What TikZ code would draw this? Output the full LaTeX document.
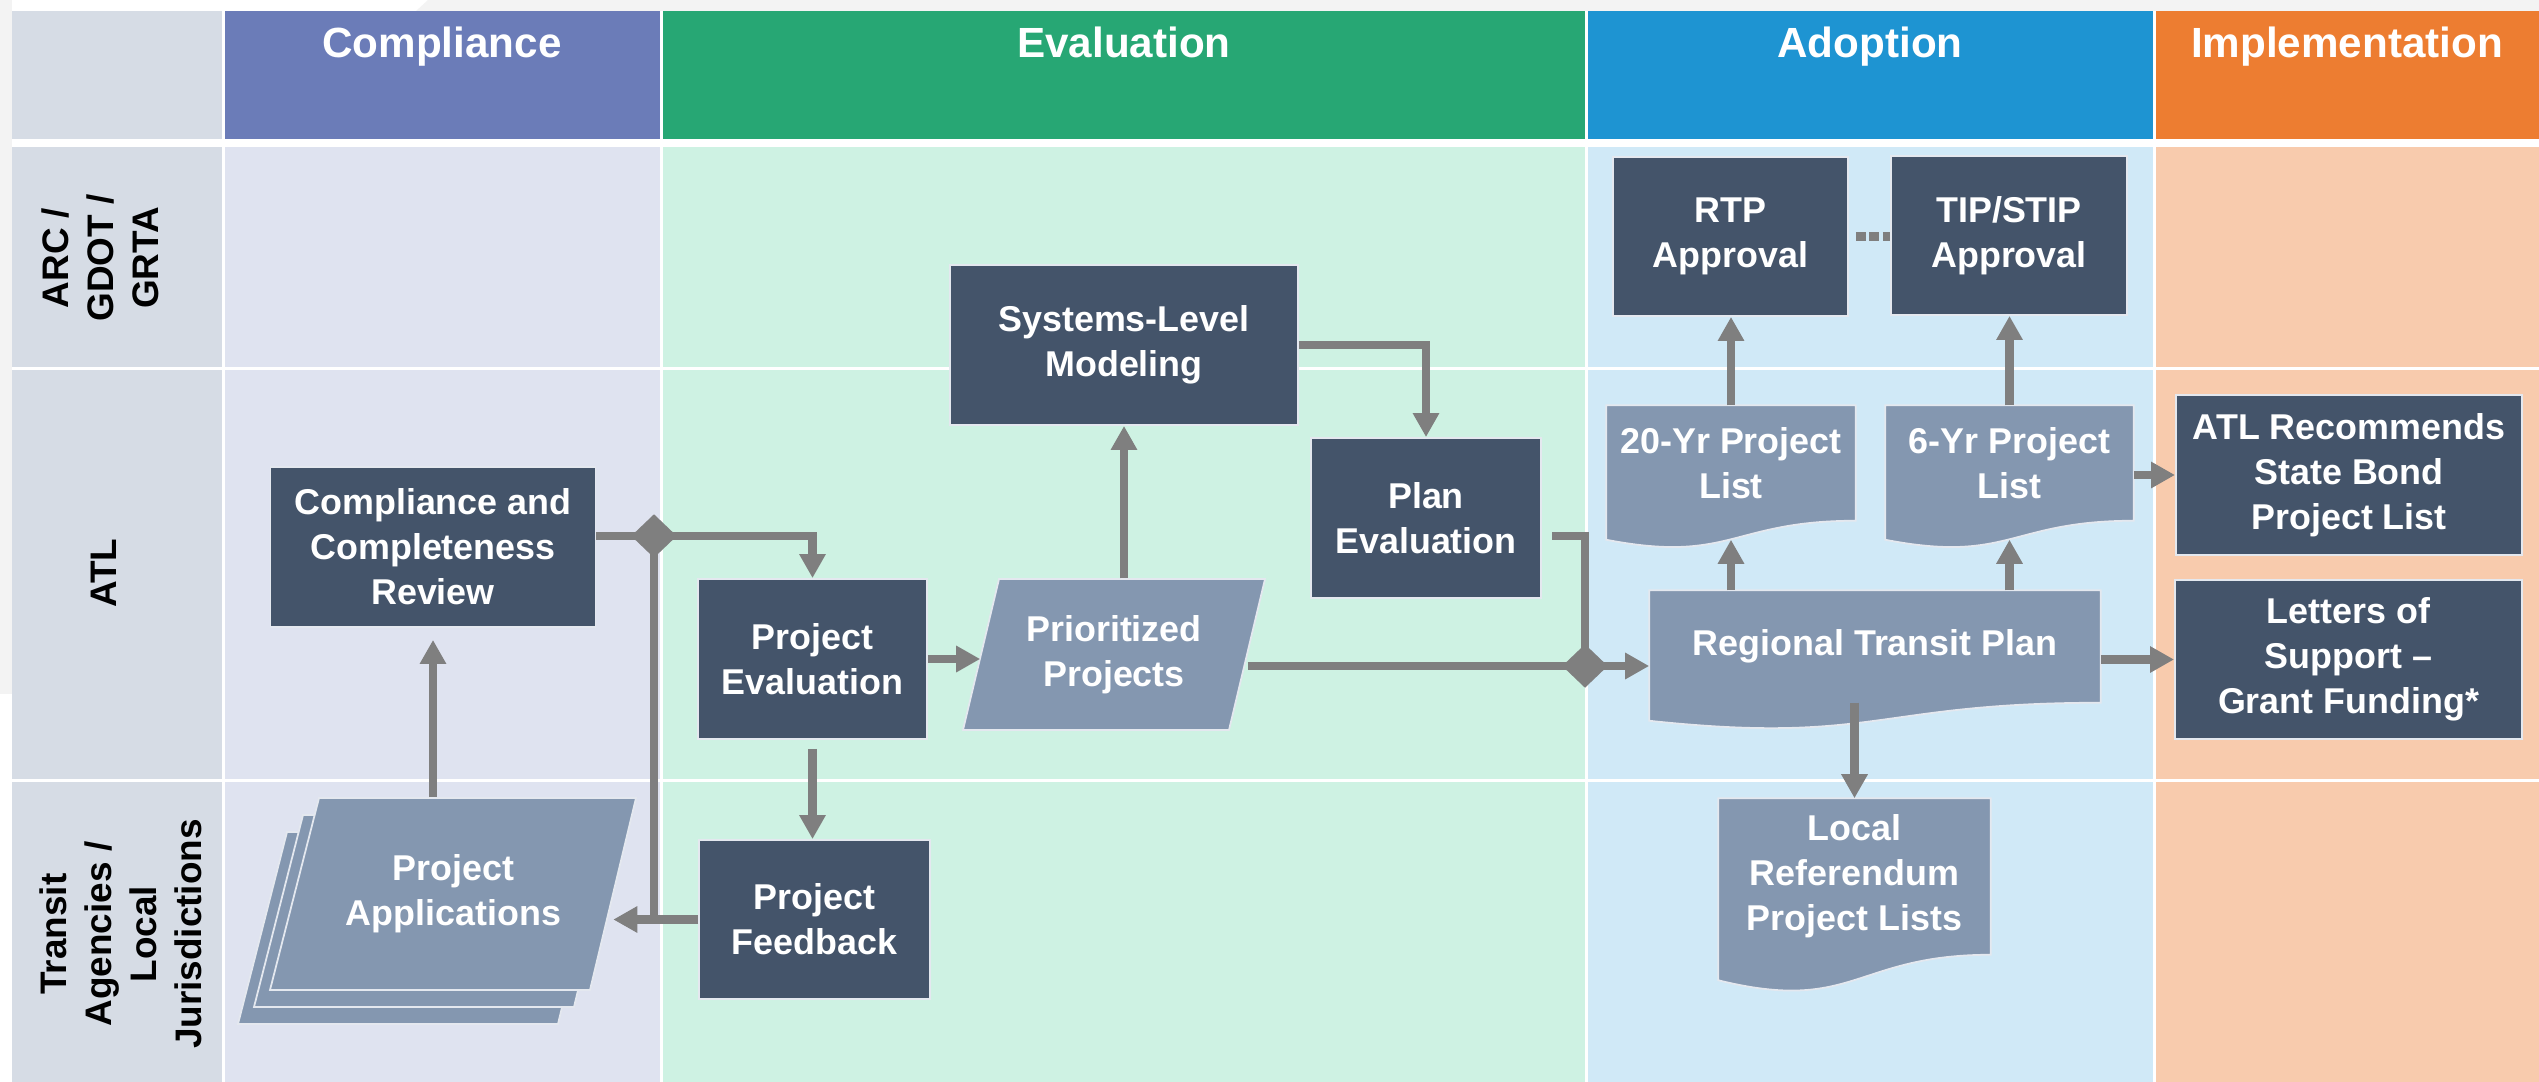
\documentclass[tikz,border=0pt]{standalone}
\usepackage{fontspec}
\setmainfont{Liberation Sans}
\usetikzlibrary{arrows.meta,shapes}

\definecolor{labelCol}{HTML}{D6DCE5}
\definecolor{compHead}{HTML}{6B7CB8}
\definecolor{compBody}{HTML}{DFE3F0}
\definecolor{evalHead}{HTML}{27A774}
\definecolor{evalBody}{HTML}{CEF2E3}
\definecolor{adoptHead}{HTML}{1E94D2}
\definecolor{adoptBody}{HTML}{D0E9F7}
\definecolor{implHead}{HTML}{ED7D31}
\definecolor{implBody}{HTML}{F8CBAD}
\definecolor{boxDark}{HTML}{44546A}
\definecolor{boxLight}{HTML}{8497B0}
\definecolor{boxEdge}{HTML}{E4E8EF}
\definecolor{arrowGray}{HTML}{7F7F7F}
\definecolor{bgGray}{HTML}{F3F3F3}

% wavy bottom of a document node: name, control depth, left end depth
\newcommand{\docwave}[3]{%
\fill[docfill] ([yshift=0.02cm]#1.south west) -- ([yshift=0.02cm]#1.south east) -- (#1.south east) .. controls (#1.south) and ([yshift=-#2]#1.south) .. ([yshift=-#3]#1.south west) -- cycle;
\draw[docline] (#1.north west) -- (#1.north east) -- (#1.south east) .. controls (#1.south) and ([yshift=-#2]#1.south) .. ([yshift=-#3]#1.south west) -- cycle;
}

\begin{document}
\begin{tikzpicture}[x=0.01cm,y=-0.01cm,
  headtext/.style={text=white,font=\fontsize{12}{14}\selectfont\bfseries,inner sep=0pt,text height=0.31cm,text depth=0.09cm},
  rowlabel/.style={text=black,font=\fontsize{10.5}{12.8}\selectfont\bfseries,align=center,rotate=90,inner sep=0pt},
  darkbox/.style={rectangle,fill=boxDark,draw=boxEdge,line width=0.5pt,text=white,font=\fontsize{10.2}{12.8}\selectfont\bfseries,align=center,inner sep=0pt},
  lighttext/.style={rectangle,text=white,font=\fontsize{10.2}{12.8}\selectfont\bfseries,align=center,inner sep=0pt},
  docbody/.style={lighttext,fill=boxLight},
  lightshape/.style={fill=boxLight,draw=boxEdge,line width=0.5pt},
  docfill/.style={fill=boxLight},
  docline/.style={draw=boxEdge,line width=0.5pt},
  conn/.style={draw=arrowGray,line width=0.088cm},
  arr/.style={conn,-{Triangle[width=0.25cm,length=0.24cm]}},
  dotlink/.style={draw=arrowGray,line width=0.085cm,dash pattern=on 0.1cm off 0.035cm},
  junction/.style={diamond,fill=arrowGray,minimum width=0.46cm,minimum height=0.44cm,inner sep=0pt}]

\fill[white] (0,0) rectangle (2539,1082);
\useasboundingbox (0,0) rectangle (2539,1082);
\fill[bgGray] (0,0) rectangle (12,694);
\fill[bgGray] (428,0) -- (2539,0) -- (2539,11) -- (416,11) -- cycle;

% header row
\fill[labelCol] (12,11) rectangle (222,139);
\fill[compHead] (225,11) rectangle (660,139);
\fill[evalHead] (663,11) rectangle (1585,139);
\fill[adoptHead] (1588,11) rectangle (2153,139);
\fill[implHead] (2156,11) rectangle (2539,139);
% lane ARC / GDOT / GRTA
\fill[labelCol] (12,147) rectangle (222,367);
\fill[compBody] (225,147) rectangle (660,367);
\fill[evalBody] (663,147) rectangle (1585,367);
\fill[adoptBody] (1588,147) rectangle (2153,367);
\fill[implBody] (2156,147) rectangle (2539,367);
% lane ATL
\fill[labelCol] (12,370) rectangle (222,779);
\fill[compBody] (225,370) rectangle (660,779);
\fill[evalBody] (663,370) rectangle (1585,779);
\fill[adoptBody] (1588,370) rectangle (2153,779);
\fill[implBody] (2156,370) rectangle (2539,779);
% lane transit agencies
\fill[labelCol] (12,782) rectangle (222,1082);
\fill[compBody] (225,782) rectangle (660,1082);
\fill[evalBody] (663,782) rectangle (1585,1082);
\fill[adoptBody] (1588,782) rectangle (2153,1082);
\fill[implBody] (2156,782) rectangle (2539,1082);

\node[headtext] (hcomp) at (442,46) {Compliance};
\node[headtext] (heval) at (1124,46) {Evaluation};
\node[headtext] (hadopt) at (1870,46) {Adoption};
\node[headtext] (himpl) at (2347,46) {Implementation};

\node[rowlabel] (rarc) at (100,258) {ARC /\\GDOT /\\GRTA};
\node[rowlabel] (ratl) at (104,573) {ATL};
\node[rowlabel] (rtrans) at (121,934) {Transit\\Agencies /\\Local\\Jurisdictions};

% slanted shapes
\fill[lightshape] [shift={(-32,34)}] (319,798) -- (636,798) -- (590,990) -- (270,990) -- cycle;
\fill[lightshape] [shift={(-16,17)}] (319,798) -- (636,798) -- (590,990) -- (270,990) -- cycle;
\fill[lightshape] (319,798) -- (636,798) -- (590,990) -- (270,990) -- cycle;
\node[lighttext,minimum width=3.18cm,minimum height=1.92cm] (pa) at (453.5,894) {Project\\Applications};
\fill[lightshape] (999,579) -- (1265,579) -- (1229,730) -- (963,730) -- cycle;
\node[lighttext,minimum width=2.66cm,minimum height=1.51cm] (pp) at (1114,654.5) {Prioritized\\Projects};

% process boxes
\node[darkbox,minimum width=3.25cm,minimum height=1.6cm] (ccr) at (433,547) {Compliance and\\Completeness\\Review};
\node[darkbox,minimum width=2.29cm,minimum height=1.6cm] (pe) at (812.5,659) {Project\\Evaluation};
\node[darkbox,minimum width=2.31cm,minimum height=1.59cm] (pf) at (814.5,919.5) {Project\\Feedback};
\node[darkbox,minimum width=3.48cm,minimum height=1.6cm] (slm) at (1124,345) {Systems-Level\\Modeling};
\node[darkbox,minimum width=2.3cm,minimum height=1.6cm] (plane) at (1426,518) {Plan\\Evaluation};
\node[darkbox,minimum width=2.35cm,minimum height=1.59cm] (rtpa) at (1730.5,236.5) {RTP\\Approval};
\node[darkbox,minimum width=2.36cm,minimum height=1.59cm] (tipa) at (2009,235.5) {TIP/STIP\\Approval};
\node[darkbox,minimum width=3.46cm,minimum height=1.6cm] (atlr) at (2349,475) {ATL Recommends\\State Bond\\Project List};
\node[darkbox,minimum width=3.47cm,minimum height=1.59cm] (lets) at (2348.5,659.5) {Letters of\\Support \textendash\\Grant Funding*};

% documents
\node[docbody,minimum width=2.48cm,minimum height=1.14cm] (yr20) at (1731,463) {20-Yr Project\\List};
\docwave{yr20}{0.43cm}{0.19cm}
\node[docbody,minimum width=2.47cm,minimum height=1.14cm] (yr6) at (2009.5,463) {6-Yr Project\\List};
\docwave{yr6}{0.43cm}{0.19cm}
\node[docbody,minimum width=4.5cm,minimum height=1.11cm] (rtp) at (1875,646.5) {Regional Transit Plan};
\docwave{rtp}{0.42cm}{0.18cm}
\node[docbody,minimum width=2.71cm,minimum height=1.55cm] (lrp) at (1854.5,876.5) {Local\\Referendum\\Project Lists};
\docwave{lrp}{0.59cm}{0.255cm}

% connectors
\coordinate (mergeA) at (654,536);
\coordinate (mergeB) at (1585,666);
\coordinate (planeout) at (1552,536);
\draw[arr,shorten >=0.12cm] (ccr.south |- pa.north) -- (ccr.south);
\draw[conn] (ccr.east |- mergeA) -- (mergeA);
\draw[arr] (mergeA) -| (pe.north);
\draw[conn] (mergeA) -- (mergeA |- pf.west);
\draw[arr] (pf.west) -- (pf.west -| pa.east);
\draw[arr,shorten <=0.09cm] (pe.south) -- (pe.south |- pf.north);
\draw[arr] (pe.east) -- (pe.east -| pp.west);
\draw[arr] (slm.south |- pp.north) -- (slm.south);
\draw[arr] (slm.east) -| (plane.north);
\draw[conn] (planeout) -| (mergeB);
\draw[conn] (pp.east |- mergeB) -- (mergeB);
\draw[arr] (mergeB) -- (mergeB -| rtp.west);
\draw[arr] (rtp.north -| yr20.south) -- ([yshift=-0.19cm]yr20.south);
\draw[arr] (rtp.north -| yr6.south) -- ([yshift=-0.19cm]yr6.south);
\draw[arr] (yr20.north) -- (yr20.north |- rtpa.south);
\draw[arr] (yr6.north) -- (yr6.north |- tipa.south);
\draw[dotlink,shorten <=0.07cm] (rtpa.east) -- (rtpa.east -| tipa.west);
\draw[arr] (yr6.east |- atlr.west) -- (atlr.west);
\draw[arr] (rtp.east |- lets.west) -- (lets.west);
\draw[arr] (lrp.north |- rtp.south) -- (lrp.north);
\node[junction] (jA) at (mergeA) {};
\node[junction] (jB) at (mergeB) {};
\end{tikzpicture}
\end{document}
